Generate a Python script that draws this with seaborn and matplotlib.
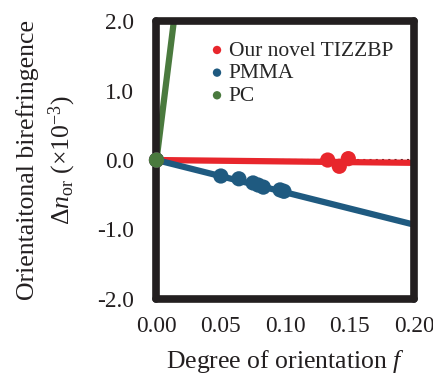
import matplotlib
matplotlib.use("Agg")
import matplotlib.pyplot as plt
import seaborn as sns
import pandas as pd
import numpy as np

sns.set_theme(style="white")
plt.rcParams['font.family'] = ['Liberation Serif', 'DejaVu Serif']
plt.rcParams['mathtext.fontset'] = 'custom'
plt.rcParams['mathtext.rm'] = 'Liberation Serif'
plt.rcParams['mathtext.it'] = 'Liberation Serif:italic'

# data
tizzbp_f = [0.0, 0.133, 0.142, 0.149]
tizzbp_dn = [0.0, 0.0, -0.09, 0.02]
pmma_f = [0.0, 0.050, 0.064, 0.075, 0.079, 0.083, 0.096, 0.099]
pmma_dn = [0.0, -0.23, -0.27, -0.33, -0.36, -0.39, -0.43, -0.45]
pc_f = [0.0]
pc_dn = [0.0]

# fitted lines
fit_f = [0.0, 0.2]
tizzbp_fit = [0.0, -0.04]
pmma_fit = [0.0, -0.93]
pc_fit_f = [0.0, 0.0135]
pc_fit = [0.0, 2.0]

zero_f = [0.02, 0.2]
zero_dn = [0.0, 0.0]

c_red = '#e8262c'
c_blue = '#1f5a80'
c_green = '#4a7a3e'
c_dark = '#231f20'

fig, ax = plt.subplots(figsize=(4.33, 3.77), dpi=100)

sns.lineplot(x=zero_f, y=zero_dn, ax=ax, color=c_dark, linestyle=(0, (1, 2)), lw=1.5, zorder=1)
sns.lineplot(x=fit_f, y=tizzbp_fit, ax=ax, color=c_red, lw=4.5, zorder=2)
sns.lineplot(x=fit_f, y=pmma_fit, ax=ax, color=c_blue, lw=4.5, zorder=2)
sns.lineplot(x=pc_fit_f, y=pc_fit, ax=ax, color=c_green, lw=4.5, zorder=2)

sns.scatterplot(x=tizzbp_f, y=tizzbp_dn, ax=ax, color=c_red, s=120, edgecolor='none', zorder=5, label='Our novel TIZZBP', clip_on=False)
sns.scatterplot(x=pmma_f, y=pmma_dn, ax=ax, color=c_blue, s=120, edgecolor='none', zorder=5, label='PMMA', clip_on=False)
sns.scatterplot(x=pc_f, y=pc_dn, ax=ax, color=c_green, s=120, edgecolor='none', zorder=6, label='PC', clip_on=False)

ax.set_xlim(0, 0.2)
ax.set_ylim(-2, 2)
ax.set_xticks([0.0, 0.05, 0.10, 0.15, 0.20])
ax.set_xticklabels(['0.00', '0.05', '0.10', '0.15', '0.20'])
ax.set_yticks([-2, -1, 0, 1, 2])
ax.set_yticklabels(['-2.0', '-1.0', '0.0', '1.0', '2.0'])
ax.tick_params(axis='both', labelsize=16.8, colors=c_dark, direction='in', length=5, width=3)
ax.tick_params(axis='y', pad=16)
ax.tick_params(axis='x', pad=12)
ax.tick_params(axis='both', labelcolor=c_dark)

for s in ax.spines.values():
    s.set_linewidth(5.5)
    s.set_color(c_dark)
    s.set_capstyle('round')
    s.set_zorder(4)

ax.set_xlabel('Degree of orientation $f$', fontsize=18.5, color=c_dark, labelpad=8)
ax.set_ylabel('Orientaitonal birefringence\n$\\Delta n_{\\rm or}$ ($\\times10^{-3}$)', fontsize=18.5,
              color=c_dark, labelpad=14, linespacing=1.35)

leg = ax.legend(loc='upper left', bbox_to_anchor=(0.21, 0.93), frameon=False, fontsize=15.5,
                handlelength=0.6, handletextpad=0.25, borderpad=0, borderaxespad=0,
                labelspacing=0.12, markerscale=0.55)

fig.subplots_adjust(left=0.3614, right=0.956, top=0.944, bottom=0.207)
fig.savefig('out.png', dpi=100)
